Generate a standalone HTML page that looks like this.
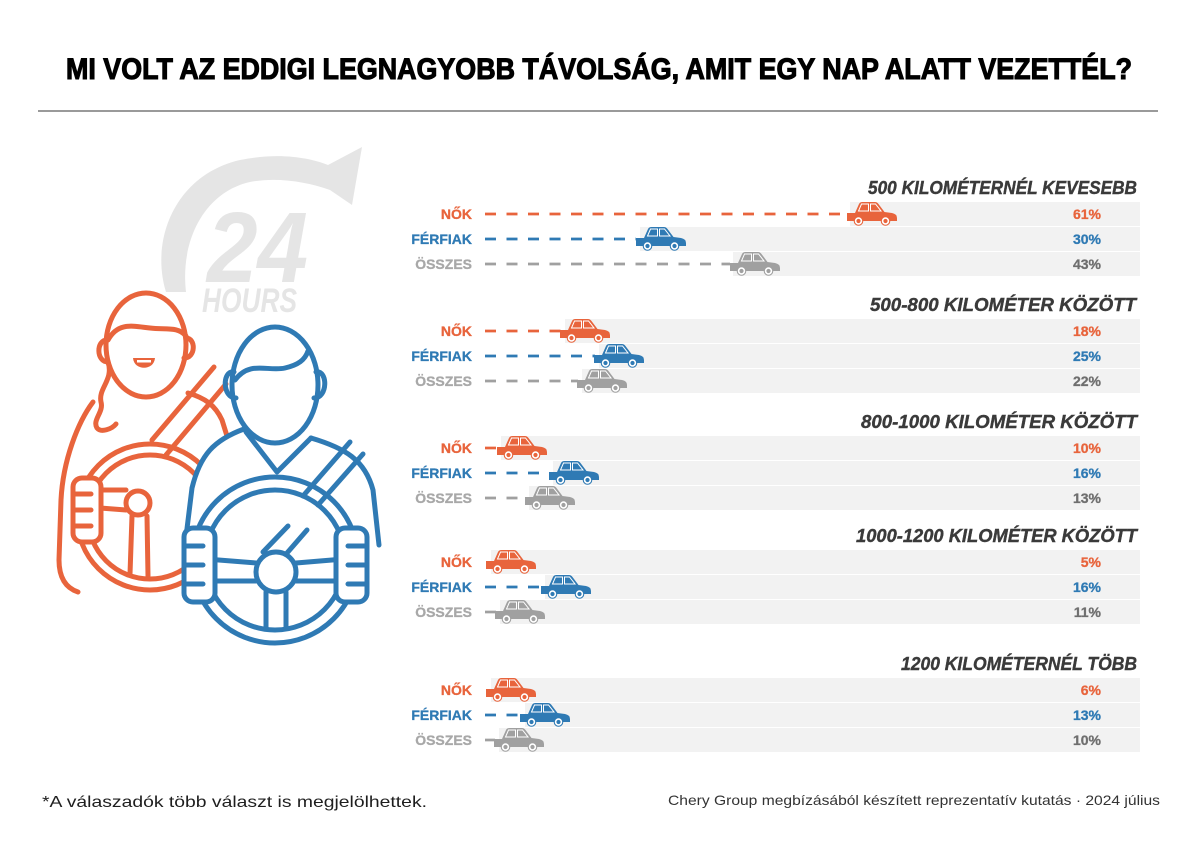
<!DOCTYPE html>
<html>
<head>
<meta charset="utf-8">
<style>
html,body{margin:0;padding:0;background:#fff;}
svg{display:block;}
text{font-family:"Liberation Sans",sans-serif;}
</style>
</head>
<body>
<svg width="1200" height="848" viewBox="0 0 1200 848" xmlns="http://www.w3.org/2000/svg">
<defs>
  <g id="carshape">
    <path d="M1,-1 L9,-1 L13,-10 Q14,-12 16.5,-12 L29,-12 Q31,-12 32.5,-10 L38.5,-2 L46,-1 Q51,0 51,4 L51,7 L1,7 Z"/>
    <circle cx="12.5" cy="7" r="4.8"/>
    <circle cx="39.5" cy="7" r="4.8"/>
    <circle cx="12.5" cy="7" r="2.9" fill="none" stroke="#fff" stroke-width="1.6"/>
    <circle cx="39.5" cy="7" r="2.9" fill="none" stroke="#fff" stroke-width="1.6"/>
    <path d="M15.5,-10 L22.5,-10 L22.5,-3 L12.5,-3 Z" fill="none" stroke="#fff" stroke-width="1"/>
    <path d="M24.5,-10 L29.5,-10 L35,-3 L24.5,-3 Z" fill="none" stroke="#fff" stroke-width="1"/>
  </g>
</defs>

<!-- Title -->
<text x="66" y="79" font-size="30" font-weight="bold" fill="#000" stroke="#000" stroke-width="1.1" textLength="1066" lengthAdjust="spacingAndGlyphs">MI VOLT AZ EDDIGI LEGNAGYOBB TÁVOLSÁG, AMIT EGY NAP ALATT VEZETTÉL?</text>
<rect x="38" y="110" width="1120" height="2" fill="#9a9a9a"/>

<!-- 24 hours swoosh -->
<path d="M166,292 C150,240 175,175 240,160 C280,152 310,158 328,165 L362,147 L352,205 L330,190 C305,181 275,177 250,182 C205,192 180,240 186,292 Z" fill="#e5e5e5"/>
<text x="207" y="282" font-size="100" font-weight="bold" font-style="italic" fill="#e5e5e5" textLength="101" lengthAdjust="spacingAndGlyphs">24</text>
<text x="202" y="312" font-size="34" font-weight="bold" font-style="italic" fill="#e5e5e5" textLength="95" lengthAdjust="spacingAndGlyphs">HOURS</text>

<!-- Woman (orange) -->
<g fill="none" stroke="#e8643c" stroke-width="5" stroke-linecap="round" stroke-linejoin="round">
  <ellipse cx="146" cy="345" rx="40" ry="52" fill="#fff"/>
  <path d="M108,340 C118,322 132,326 150,328 C165,330 178,326 186,336"/>
  <path d="M107,340 C96,340 96,362 108,362"/>
  <path d="M186,338 C196,338 196,358 184,358"/>
  <path d="M108,362 C114,380 98,388 101,402 C104,412 92,420 97,428 C101,433 112,429 116,424"/>
  <path d="M93,402 C78,422 63,460 61,500 L59,560 C59,578 66,588 78,592"/>
  <path d="M188,393 C205,398 215,405 222,420 L232,452"/>
  <path d="M214,367 L152,440"/>
  <path d="M226,384 L166,455"/>
  <circle cx="150" cy="517" r="73"/>
  <circle cx="150" cy="517" r="62"/>
  <circle cx="138" cy="503" r="12"/>
  <path d="M100,490 L126,490"/>
  <path d="M100,508 L126,510"/>
  <path d="M132,516 L130,574"/>
  <path d="M147,516 L148,576"/>
  <rect x="73" y="478" width="28" height="64" rx="9" fill="#fff"/>
  <path d="M73,494 L91,494 M73,510 L91,510 M73,526 L91,526"/>
</g>
<path d="M133,358 L155,358 C154,371 134,371 133,358 Z" fill="#e8643c"/>
<rect x="137" y="360" width="14" height="2.5" fill="#fff"/>

<!-- Man (blue) -->
<path d="M246,428 C215,440 198,455 190,490 L176,646 L382,646 L379,520 C375,475 365,460 311,436 Z" fill="#fff"/>
<g fill="none" stroke="#2f7ab4" stroke-width="5" stroke-linecap="round" stroke-linejoin="round">
  <ellipse cx="275" cy="385" rx="43" ry="58" fill="#fff"/>
  <path d="M234,372 C222,370 222,398 236,398"/>
  <path d="M316,372 C328,370 328,398 314,398"/>
  <path d="M235,380 C250,360 268,372 285,368 C298,365 305,360 308,351"/>
  <path d="M246,432 L277,472 L311,438"/>
  <path d="M244,429 C214,440 200,455 192,488 L185,545"/>
  <path d="M311,438 C345,448 365,460 373,490 L379,545"/>
  <path d="M350,442 L303,496"/>
  <path d="M363,454 L318,505"/>
  <path d="M288,526 L263,552"/>
  <path d="M307,530 L287,553"/>
  <circle cx="275" cy="560" r="83"/>
  <circle cx="275" cy="560" r="70"/>
  <circle cx="276" cy="572" r="20" fill="#fff"/>
  <path d="M206,559 L256,563 M206,581 L256,581"/>
  <path d="M296,563 L344,559 M296,581 L344,581"/>
  <path d="M266,592 L266,628 M286,592 L286,628"/>
  <rect x="184" y="528" width="31" height="74" rx="9" fill="#fff"/>
  <path d="M184,546 L203,546 M184,565 L203,565 M184,584 L203,584"/>
  <rect x="336" y="528" width="31" height="74" rx="9" fill="#fff"/>
  <path d="M348,546 L367,546 M348,565 L367,565 M348,584 L367,584"/>
</g>

<!-- Group titles -->
<g font-size="18" font-weight="bold" font-style="italic" fill="#3a3a3a" stroke="#3a3a3a" stroke-width="0.4" text-anchor="end">
  <text x="1137" y="194" textLength="269" lengthAdjust="spacingAndGlyphs">500 KILOMÉTERNÉL KEVESEBB</text>
  <text x="1136" y="311" textLength="266" lengthAdjust="spacingAndGlyphs">500-800 KILOMÉTER KÖZÖTT</text>
  <text x="1137" y="428" textLength="276" lengthAdjust="spacingAndGlyphs">800-1000 KILOMÉTER KÖZÖTT</text>
  <text x="1137" y="542" textLength="281" lengthAdjust="spacingAndGlyphs">1000-1200 KILOMÉTER KÖZÖTT</text>
  <text x="1137" y="670" textLength="236" lengthAdjust="spacingAndGlyphs">1200 KILOMÉTERNÉL TÖBB</text>
</g>

<!-- Bars -->
<g fill="#f2f2f2">
  <rect x="850" y="202" width="290" height="24"/>
  <rect x="640" y="227" width="500" height="24"/>
  <rect x="733" y="252" width="407" height="24"/>

  <rect x="565" y="319" width="575" height="24"/>
  <rect x="599" y="344" width="541" height="24"/>
  <rect x="582" y="369" width="558" height="24"/>

  <rect x="501" y="436" width="639" height="24"/>
  <rect x="553" y="461" width="587" height="24"/>
  <rect x="529" y="486" width="611" height="24"/>

  <rect x="491" y="550" width="649" height="24"/>
  <rect x="545" y="575" width="595" height="24"/>
  <rect x="500" y="600" width="640" height="24"/>

  <rect x="491" y="678" width="649" height="24"/>
  <rect x="525" y="703" width="615" height="24"/>
  <rect x="499" y="728" width="641" height="24"/>
</g>

<!-- Dashes -->
<g stroke-width="2.7" stroke-dasharray="11 10.5" fill="none">
  <path d="M485,214 L846,214" stroke="#e8643c"/>
  <path d="M485,239 L636,239" stroke="#2f7ab4"/>
  <path d="M485,264 L730,264" stroke="#a0a0a0"/>

  <path d="M485,331 L561,331" stroke="#e8643c"/>
  <path d="M485,356 L595,356" stroke="#2f7ab4"/>
  <path d="M485,381 L578,381" stroke="#a0a0a0"/>

  <path d="M485,448 L497,448" stroke="#e8643c"/>
  <path d="M485,473 L549,473" stroke="#2f7ab4"/>
  <path d="M485,498 L525,498" stroke="#a0a0a0"/>

  <path d="M485,587 L541,587" stroke="#2f7ab4"/>
  <path d="M485,612 L496,612" stroke="#a0a0a0"/>

  <path d="M485,715 L521,715" stroke="#2f7ab4"/>
  <path d="M485,740 L495,740" stroke="#a0a0a0"/>
</g>

<!-- Cars -->
<use href="#carshape" x="846" y="214" fill="#e8643c"/>
<use href="#carshape" x="635" y="239" fill="#2f7ab4"/>
<use href="#carshape" x="729" y="264" fill="#a0a0a0"/>

<use href="#carshape" x="559" y="331" fill="#e8643c"/>
<use href="#carshape" x="593" y="356" fill="#2f7ab4"/>
<use href="#carshape" x="576" y="381" fill="#a0a0a0"/>

<use href="#carshape" x="496" y="448" fill="#e8643c"/>
<use href="#carshape" x="548" y="473" fill="#2f7ab4"/>
<use href="#carshape" x="524" y="498" fill="#a0a0a0"/>

<use href="#carshape" x="485" y="562" fill="#e8643c"/>
<use href="#carshape" x="540" y="587" fill="#2f7ab4"/>
<use href="#carshape" x="494" y="612" fill="#a0a0a0"/>

<use href="#carshape" x="485" y="690" fill="#e8643c"/>
<use href="#carshape" x="519" y="715" fill="#2f7ab4"/>
<use href="#carshape" x="493" y="740" fill="#a0a0a0"/>

<!-- Row labels -->
<g font-size="14" font-weight="bold" text-anchor="end" stroke-width="0.3">
  <text x="472" y="219" fill="#e8643c" stroke="#e8643c">NŐK</text>
  <text x="472" y="244" fill="#2f7ab4" stroke="#2f7ab4">FÉRFIAK</text>
  <text x="472" y="269" fill="#a8a8a8" stroke="#a8a8a8">ÖSSZES</text>

  <text x="472" y="336" fill="#e8643c" stroke="#e8643c">NŐK</text>
  <text x="472" y="361" fill="#2f7ab4" stroke="#2f7ab4">FÉRFIAK</text>
  <text x="472" y="386" fill="#a8a8a8" stroke="#a8a8a8">ÖSSZES</text>

  <text x="472" y="453" fill="#e8643c" stroke="#e8643c">NŐK</text>
  <text x="472" y="478" fill="#2f7ab4" stroke="#2f7ab4">FÉRFIAK</text>
  <text x="472" y="503" fill="#a8a8a8" stroke="#a8a8a8">ÖSSZES</text>

  <text x="472" y="567" fill="#e8643c" stroke="#e8643c">NŐK</text>
  <text x="472" y="592" fill="#2f7ab4" stroke="#2f7ab4">FÉRFIAK</text>
  <text x="472" y="617" fill="#a8a8a8" stroke="#a8a8a8">ÖSSZES</text>

  <text x="472" y="695" fill="#e8643c" stroke="#e8643c">NŐK</text>
  <text x="472" y="720" fill="#2f7ab4" stroke="#2f7ab4">FÉRFIAK</text>
  <text x="472" y="745" fill="#a8a8a8" stroke="#a8a8a8">ÖSSZES</text>
</g>

<!-- Percentages -->
<g font-size="14" font-weight="bold" text-anchor="end" stroke-width="0.3">
  <text x="1101" y="219" fill="#e8643c" stroke="#e8643c">61%</text>
  <text x="1101" y="244" fill="#2f7ab4" stroke="#2f7ab4">30%</text>
  <text x="1101" y="269" fill="#6f6f6f" stroke="#6f6f6f">43%</text>

  <text x="1101" y="336" fill="#e8643c" stroke="#e8643c">18%</text>
  <text x="1101" y="361" fill="#2f7ab4" stroke="#2f7ab4">25%</text>
  <text x="1101" y="386" fill="#6f6f6f" stroke="#6f6f6f">22%</text>

  <text x="1101" y="453" fill="#e8643c" stroke="#e8643c">10%</text>
  <text x="1101" y="478" fill="#2f7ab4" stroke="#2f7ab4">16%</text>
  <text x="1101" y="503" fill="#6f6f6f" stroke="#6f6f6f">13%</text>

  <text x="1101" y="567" fill="#e8643c" stroke="#e8643c">5%</text>
  <text x="1101" y="592" fill="#2f7ab4" stroke="#2f7ab4">16%</text>
  <text x="1101" y="617" fill="#6f6f6f" stroke="#6f6f6f">11%</text>

  <text x="1101" y="695" fill="#e8643c" stroke="#e8643c">6%</text>
  <text x="1101" y="720" fill="#2f7ab4" stroke="#2f7ab4">13%</text>
  <text x="1101" y="745" fill="#6f6f6f" stroke="#6f6f6f">10%</text>
</g>

<!-- Footer -->
<text x="42" y="807" font-size="16" fill="#1e1e1e" textLength="385" lengthAdjust="spacingAndGlyphs">*A válaszadók több választ is megjelölhettek.</text>
<text x="1160" y="805" font-size="14" fill="#333" text-anchor="end" textLength="492" lengthAdjust="spacingAndGlyphs">Chery Group megbízásából készített reprezentatív kutatás · 2024 július</text>
</svg>
</body>
</html>
